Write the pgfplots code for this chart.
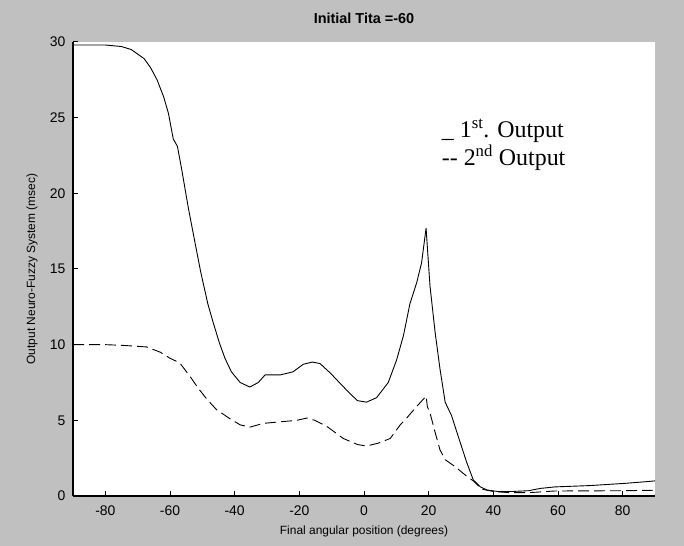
\documentclass[border=0pt]{standalone}
\usepackage{pgfplots}
\pgfplotsset{compat=1.18}
\usepackage{fontspec}
\setmainfont{Liberation Sans}
\newfontfamily\timesfont{Liberation Serif}
\definecolor{figgray}{RGB}{192,192,192}

\begin{document}
\begin{tikzpicture}[x=1bp,y=1bp]
% figure background
\fill[figgray] (0,0) rectangle (684,546);
\begin{axis}[
  at={(73bp,50bp)}, anchor=south west,
  width=582bp, height=454bp, scale only axis,
  xmin=-90, xmax=90, ymin=0, ymax=30,
  axis x line*=bottom, axis y line*=left,
  axis line style={line width=1.2bp, -},
  axis background/.style={fill=white},
  xtick={-80,-60,...,80}, ytick={0,5,...,30},
  tick align=inside, major tick length=5bp,
  tick style={black, line width=1bp},
  ticklabel style={font=\fontsize{14}{14}\selectfont},
  xticklabel style={yshift=-6bp},
  yticklabel style={xshift=-4bp},
  /pgf/number format/assume math mode=true,
  title={Initial Tita =-60},
  title style={font=\fontsize{14.5}{14.5}\selectfont\bfseries, at={(axis description cs:0.5,1.038)}, anchor=center},
  xlabel={Final angular position (degrees)},
  xlabel style={font=\fontsize{12}{12}\selectfont, at={(axis description cs:0.5,-0.077)}, anchor=center},
  ylabel={Output Neuro-Fuzzy System (msec)},
  ylabel style={font=\fontsize{12}{12}\selectfont, at={(axis description cs:-0.0704,0.5)}, anchor=center},
]
% 1st output (solid)
\addplot[black, line width=0.9bp] coordinates {
  (-90,29.8)(-80,29.8)(-75,29.7)(-72,29.5)(-68,28.9)(-66,28.3)(-64,27.5)
  (-62,26.4)(-60.5,25.3)(-59,23.6)(-57.7,23.1)(-56.4,21.6)(-54.3,19.0)
  (-52.5,17.0)(-50.5,14.8)(-48.3,12.7)(-46.7,11.5)(-44.7,10.1)(-43,9.1)
  (-41,8.2)(-38.3,7.5)(-35.3,7.2)(-32.7,7.5)(-30.6,8.0)(-26,8.0)(-22,8.2)
  (-18.8,8.7)(-16,8.85)(-13.6,8.75)(-10.3,8.1)(-7.2,7.4)(-4,6.7)(-2,6.3)
  (0.8,6.2)(3.9,6.5)(7.5,7.5)(10.1,9.0)(12.2,10.6)(14.2,12.7)(16.3,14.1)
  (17.8,15.4)(19.2,17.7)(20.4,13.9)(22,10.8)(23.5,8.4)(25.1,6.2)(27.1,5.3)
  (29.2,3.9)(31.8,2.2)(33.8,1.06)(36,0.6)(38,0.4)(41.6,0.29)(46,0.3)
  (50.9,0.35)(54.5,0.5)(59,0.6)(70,0.69)(81,0.84)(87.5,0.95)(90,1.0)
};
% 2nd output (dashed)
\addplot[black, line width=0.9bp, dash pattern=on 11bp off 5bp] coordinates {
  (-90,10.0)(-80,10.0)(-74.4,9.95)(-67.2,9.85)(-63,9.5)(-60,9.1)(-57,8.8)
  (-53.8,7.9)(-51.2,7.1)(-48.6,6.4)(-45.6,5.7)(-41.4,5.1)(-38.3,4.7)
  (-35.3,4.55)(-31.1,4.8)(-26,4.9)(-20.8,5.0)(-17.7,5.15)(-15.2,5.0)
  (-11.5,4.6)(-6.4,3.8)(-2,3.4)(0.8,3.3)(4.5,3.5)(8.1,3.8)(11.2,4.7)
  (13.2,5.15)(15.8,5.8)(19.2,6.6)(19.6,5.9)(20.4,5.5)(22,4.2)(23.5,3.05)
  (25.1,2.4)(28.1,1.95)(31.8,1.3)(33.8,1.0)(36.4,0.45)(40,0.3)(45,0.22)
  (50.9,0.22)(59,0.33)(70,0.34)(81,0.35)(90,0.38)
};
\node[anchor=west, align=left, font=\timesfont\fontsize{24}{28}\selectfont]
  at (axis cs:23,23.2) {\_ 1\textsuperscript{st}. Output\\{-}{-} 2\textsuperscript{nd} Output};
\end{axis}
\end{tikzpicture}
\end{document}
